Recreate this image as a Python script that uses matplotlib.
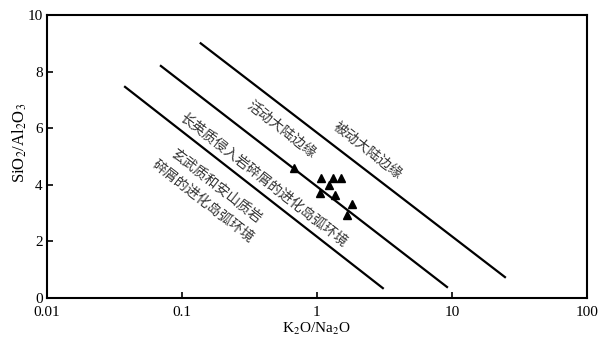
"""
K2O/Na2O vs SiO2/Al2O3 tectonic setting discrimination diagram
"""

import matplotlib
matplotlib.use('agg')
import matplotlib.pyplot as plt

plt.rcParams['font.family'] = ['Liberation Serif', 'DejaVu Serif']
plt.rcParams['mathtext.fontset'] = 'stix'

# boundary lines (x = K2O/Na2O, y = SiO2/Al2O3)
line_lower_x = [0.038, 3.08]
line_lower_y = [7.46, 0.35]
line_mid_x = [0.070, 9.2]
line_mid_y = [8.2, 0.39]
line_upper_x = [0.138, 24.7]
line_upper_y = [9.0, 0.74]

# sample points (triangles)
sample_x = [0.68, 1.07, 1.31, 1.51, 1.23, 1.05, 1.36, 1.82, 1.67]
sample_y = [4.59, 4.24, 4.24, 4.24, 3.99, 3.71, 3.64, 3.32, 2.93]

# field labels: text, x, y
field_labels = [
    ("活动大陆边缘", 0.55, 5.94),
    ("被动大陆边缘", 2.39, 5.23),
    ("长英质侵入岩碎屑的进化岛弧环境", 0.40, 4.17),
    ("玄武质和安山质岩", 0.18, 3.96),
    ("碎屑的进化岛弧环境", 0.143, 3.43),
]

x_ticks = [0.01, 0.1, 1, 10, 100]
x_tick_labels = ["0.01", "0.1", "1", "10", "100"]
y_ticks = [0, 2, 4, 6, 8, 10]

figure = plt.figure(figsize=(6.07, 3.41), dpi=100)
axes = figure.add_axes([0.077, 0.126, 0.890, 0.830])

for xs, ys in [(line_lower_x, line_lower_y), (line_mid_x, line_mid_y),
               (line_upper_x, line_upper_y)]:
    axes.plot(xs, ys, color='black', linewidth=1.6)

axes.plot(sample_x, sample_y, linestyle='', marker='^', color='black',
          markersize=6)

for text, tx, ty in field_labels:
    axes.text(tx, ty, text, rotation=-38, ha='center', va='center',
              rotation_mode='anchor', fontsize=10, color='#333333',
              family=['Noto Sans CJK SC', 'DejaVu Sans'])

axes.set_xscale('log')
axes.set_xlim(0.01, 100)
axes.set_ylim(0, 10)
axes.set_xticks(x_ticks)
axes.set_xticklabels(x_tick_labels)
axes.set_yticks(y_ticks)
axes.minorticks_off()
axes.tick_params(direction='in', length=4, width=1.2, labelsize=11,
                 top=False, right=False)
axes.tick_params(axis='x', pad=6)
axes.tick_params(axis='y', pad=3)
for spine in axes.spines.values():
    spine.set_linewidth(1.5)

axes.set_xlabel(r"K$_2$O/Na$_2$O", fontsize=11, labelpad=1)
axes.set_ylabel(r"SiO$_2$/Al$_2$O$_3$", fontsize=12, va='center')
axes.yaxis.set_label_coords(-0.05, 0.55)

figure.savefig("out.png", dpi=100)
